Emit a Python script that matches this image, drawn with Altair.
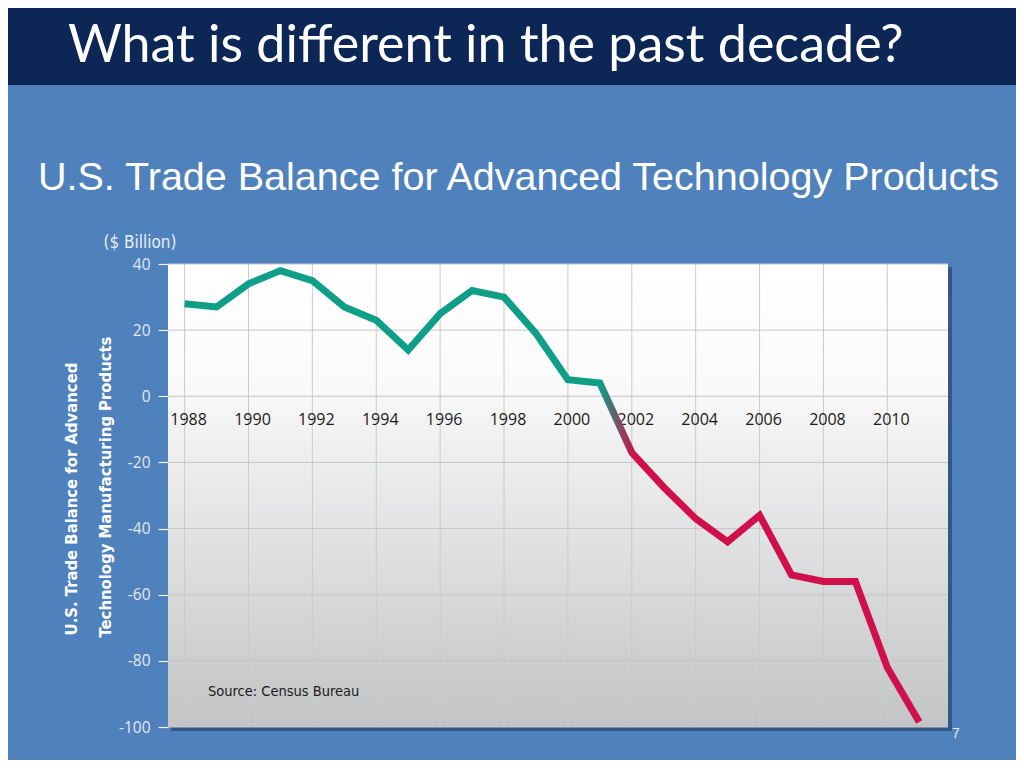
import altair as alt
import pandas as pd

# ---- data ----
years = list(range(1988, 2012))
balance = [28, 27, 34, 38, 35, 27, 23, 14, 25, 32, 30, 19, 5, 4,
           -17, -27.5, -37, -44, -36, -54, -56, -56, -82, -98.5]
x_tick_years = list(range(1988, 2011, 2))
y_ticks = [40, 20, 0, -20, -40, -60, -80, -100]

W, H = 780, 463
GREEN = "#0f9e87"
RED = "#d0104b"
COND = "DejaVu Sans Condensed, sans-serif"

df = pd.DataFrame({"year": years, "balance": balance})
xgrid = pd.DataFrame({"year": x_tick_years, "label": [str(y) for y in x_tick_years]})
ygrid = pd.DataFrame({"v": y_ticks})
one = pd.DataFrame({"k": [1]})

xs = alt.Scale(domain=[1987.48, 2011.9], nice=False, zero=False)
ys = alt.Scale(domain=[-100, 40], nice=False, zero=False)

yaxis = alt.Axis(values=y_ticks, title=None, grid=False, domain=False,
                 tickColor="#f2f5fa", tickSize=10, tickWidth=1.2,
                 labelColor="#e3e9f2", labelFontSize=15.5,
                 labelFont="Open Sans", labelPadding=8,
                 labelExpr="toString(datum.value)")


def label(text, x, y, **kw):
    return alt.Chart(one).mark_text(text=text, **kw).encode(
        x=alt.value(x), y=alt.value(y))


banner = alt.Chart(one).mark_rect(color="#0c2756").encode(
    x=alt.value(-170), x2=alt.value(W + 90),
    y=alt.value(-270), y2=alt.value(-179))

title = label("What is different in the past decade?", -100, -202,
              font="Lato", fontSize=52, color="white", align="left",
              baseline="alphabetic")

subtitle = label("U.S. Trade Balance for Advanced Technology Products", -130, -74,
                 font="Liberation Sans, Arial, sans-serif", fontSize=39.5,
                 color="white", align="left", baseline="alphabetic")

shadow = alt.Chart(one).mark_rect(color="#1c355c", opacity=0.55).encode(
    x=alt.value(3), x2=alt.value(W + 4), y=alt.value(3), y2=alt.value(H + 4))

plotbg = alt.Chart(one).mark_rect(
    color=alt.Gradient(
        gradient="linear", x1=0, y1=0, x2=0, y2=1,
        stops=[alt.GradientStop(offset=0, color="#ffffff"),
               alt.GradientStop(offset=0.25, color="#fafafa"),
               alt.GradientStop(offset=1, color="#c2c4c6")])).encode(
    x=alt.value(0), x2=alt.value(W), y=alt.value(0), y2=alt.value(H))

hgrid = alt.Chart(ygrid).mark_rule(color="#c6c6c6", strokeWidth=1).encode(
    y=alt.Y("v:Q", scale=ys, axis=yaxis), x=alt.value(0), x2=alt.value(W))

vgrid = alt.Chart(xgrid).mark_rule(color="#cbcbcb", strokeWidth=1).encode(
    x=alt.X("year:Q", scale=xs, axis=None), y=alt.value(0), y2=alt.value(H))

year_labels = alt.Chart(xgrid).mark_text(
    font="Open Sans", fontSize=16, color="#1a1a1a", baseline="middle", dx=4).encode(
    x=alt.X("year:Q", scale=xs, axis=None), y=alt.value(156), text="label:N")

line = alt.Chart(df).mark_line(
    strokeWidth=7, strokeJoin="miter", strokeCap="butt",
    color=alt.Gradient(
        gradient="linear", x1=0, y1=0, x2=1, y2=0,
        stops=[alt.GradientStop(offset=0, color=GREEN),
               alt.GradientStop(offset=0.566, color=GREEN),
               alt.GradientStop(offset=0.612, color=RED),
               alt.GradientStop(offset=1, color=RED)])).encode(
    x=alt.X("year:Q", scale=xs, axis=None),
    y=alt.Y("balance:Q", scale=ys, axis=yaxis))

ytitle1 = label("U.S. Trade Balance for Advanced", -96, 235,
                font=COND, fontWeight="bold", fontSize=16.5, angle=270,
                color="white", align="center", baseline="middle")
ytitle2 = label("Technology Manufacturing Products", -62, 223,
                font=COND, fontWeight="bold", fontSize=16.5, angle=270,
                color="white", align="center", baseline="middle")

unit = label("($ Billion)", -28, -21, font=COND, fontSize=17, color="#e8eef6",
             align="center", baseline="middle")

source = label("Source: Census Bureau", 40, 428, font=COND, fontSize=14.5,
               color="#1a1a1a", align="left", baseline="middle")

pagenum = label("7", 784, 470, font="Liberation Sans", fontSize=14,
                color="#e8eef6", align="left", baseline="middle")

chart = alt.layer(
    banner, title, subtitle, shadow, plotbg, vgrid, hgrid,
    year_labels, line, ytitle1, ytitle2, unit, source, pagenum
).properties(
    width=W, height=H,
    autosize=alt.AutoSizeParams(type="none"),
    padding={"left": 160, "top": 256, "right": 68, "bottom": 33},
    background="#4f81bd",
).configure_view(stroke=None)

chart.save("out.html", embed_options={"renderer": "svg", "actions": False})
